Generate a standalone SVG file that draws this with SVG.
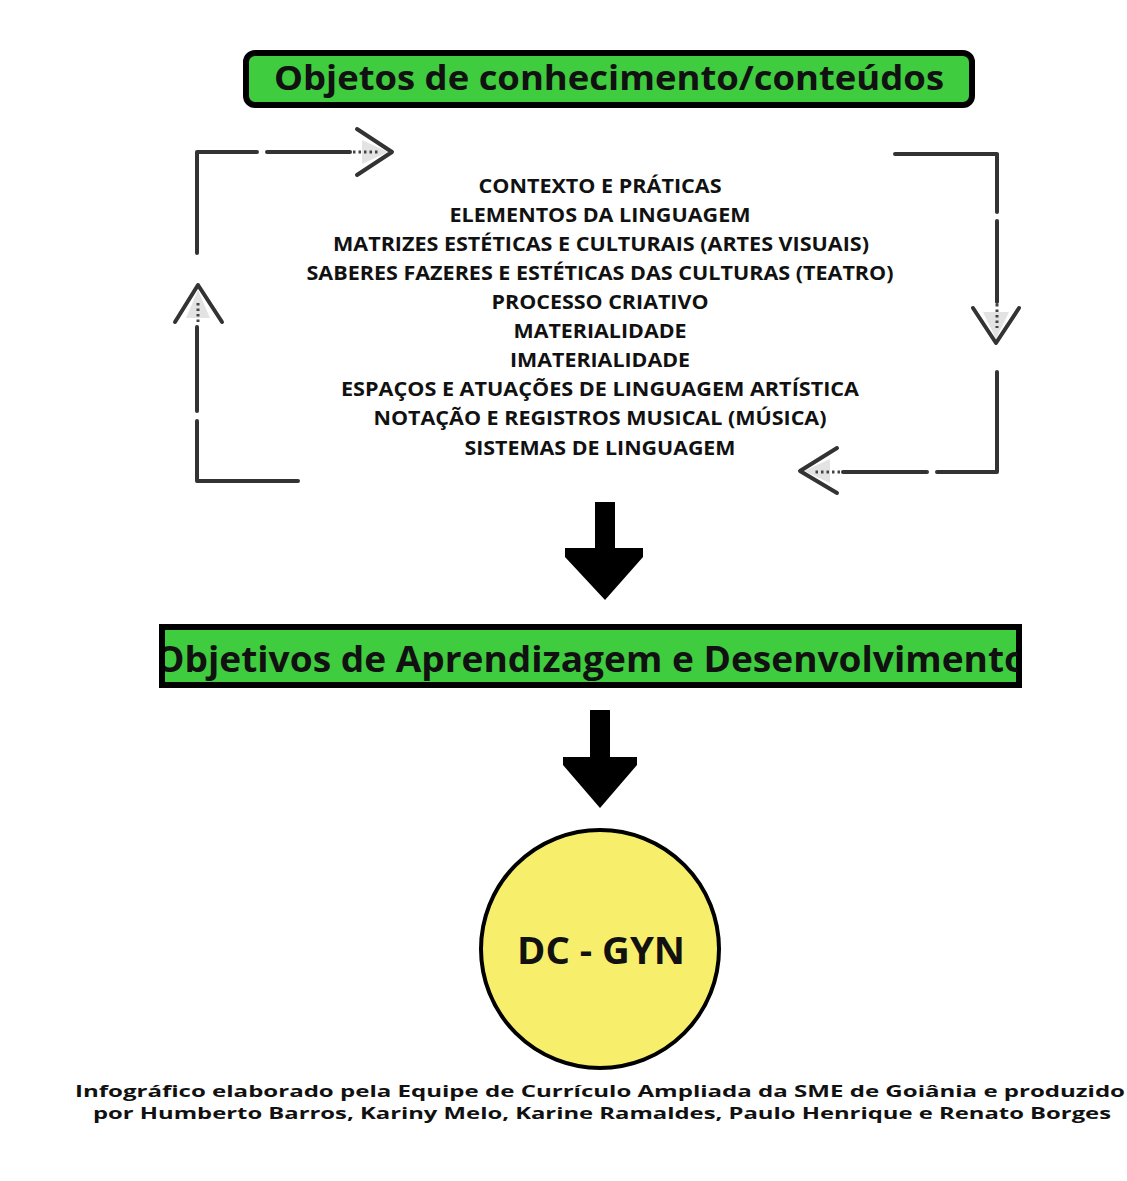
<svg xmlns="http://www.w3.org/2000/svg" width="1127" height="1181" viewBox="0 0 1127 1181">
  <defs>
    <style>
      .line{fill:none;stroke:#333;stroke-width:4;stroke-linecap:round;stroke-linejoin:round}
      .dots{fill:none;stroke:#444;stroke-width:3;stroke-dasharray:2.5 3}
      .tri{fill:#e3e3e3;stroke:none}
      .list{font-family:"Open Sans","Liberation Sans",sans-serif;font-weight:700;font-size:19px;fill:#111;text-anchor:middle}
      .head{font-family:"Open Sans","Liberation Sans",sans-serif;font-weight:700;fill:#111;text-anchor:middle}
      .foot{font-family:"Open Sans","Liberation Sans",sans-serif;font-weight:700;font-size:16px;fill:#111;text-anchor:middle}
      .big{fill:#000;stroke:none}
    </style>
    <clipPath id="clip2"><rect x="165" y="630" width="852" height="52"/></clipPath>
  </defs>
  <rect width="1127" height="1181" fill="#fff"/>

  <g id="node-objetos">
    <rect x="246" y="53" width="726" height="52" rx="9" fill="#3fcc3f" stroke="#000" stroke-width="6"/>
    <text class="head" x="609" y="90" font-size="34" textLength="670" lengthAdjust="spacingAndGlyphs">Objetos de conhecimento/conteúdos</text>
  </g>

  <g id="node-lista">
    <text class="list" x="600" y="193" textLength="243" lengthAdjust="spacingAndGlyphs">CONTEXTO E PRÁTICAS</text>
    <text class="list" x="600" y="222" textLength="301" lengthAdjust="spacingAndGlyphs">ELEMENTOS DA LINGUAGEM</text>
    <text class="list" x="601" y="251" textLength="536" lengthAdjust="spacingAndGlyphs">MATRIZES ESTÉTICAS E CULTURAIS (ARTES VISUAIS)</text>
    <text class="list" x="600" y="280" textLength="587" lengthAdjust="spacingAndGlyphs">SABERES FAZERES E ESTÉTICAS DAS CULTURAS (TEATRO)</text>
    <text class="list" x="600" y="309" textLength="217" lengthAdjust="spacingAndGlyphs">PROCESSO CRIATIVO</text>
    <text class="list" x="600" y="338" textLength="173" lengthAdjust="spacingAndGlyphs">MATERIALIDADE</text>
    <text class="list" x="600" y="367" textLength="180" lengthAdjust="spacingAndGlyphs">IMATERIALIDADE</text>
    <text class="list" x="600" y="396" textLength="518" lengthAdjust="spacingAndGlyphs">ESPAÇOS E ATUAÇÕES DE LINGUAGEM ARTÍSTICA</text>
    <text class="list" x="600" y="425" textLength="453" lengthAdjust="spacingAndGlyphs">NOTAÇÃO E REGISTROS MUSICAL (MÚSICA)</text>
    <text class="list" x="600" y="455" textLength="271" lengthAdjust="spacingAndGlyphs">SISTEMAS DE LINGUAGEM</text>
  </g>

  <g id="node-objetivos">
    <rect x="162" y="627" width="857" height="58" fill="#3fcc3f" stroke="#000" stroke-width="6"/>
    <g clip-path="url(#clip2)">
      <text class="head" x="591" y="672" font-size="36" textLength="872" lengthAdjust="spacingAndGlyphs">Objetivos de Aprendizagem e Desenvolvimento</text>
    </g>
  </g>

  <g id="node-dcgyn">
    <circle cx="600" cy="949" r="119" fill="#f7ef6b" stroke="#000" stroke-width="4"/>
    <text class="head" x="601" y="964" font-size="38" textLength="168" lengthAdjust="spacingAndGlyphs">DC - GYN</text>
  </g>

  <g id="node-credito">
    <text class="foot" x="600" y="1097" textLength="1050" lengthAdjust="spacingAndGlyphs">Infográfico elaborado pela Equipe de Currículo Ampliada da SME de Goiânia e produzido</text>
    <text class="foot" x="602" y="1119" textLength="1018" lengthAdjust="spacingAndGlyphs">por Humberto Barros, Kariny Melo, Karine Ramaldes, Paulo Henrique e Renato Borges</text>
  </g>

  <g id="connectors">
    <!-- left loop: bottom -> up -> right -->
    <polyline class="line" points="298,481 197,481 197,421"/>
    <line class="line" x1="197" y1="411" x2="197" y2="327"/>
    <polygon class="tri" points="198,290 186,318 210,318"/>
    <line class="dots" x1="198" y1="322" x2="198" y2="300"/>
    <polyline class="line" points="175,322 198,285 222,322"/>
    <polyline class="line" points="197,253 197,152 257,152"/>
    <line class="line" x1="267" y1="152" x2="350" y2="152"/>
    <polygon class="tri" points="388,152 362,140 362,164"/>
    <line class="dots" x1="353" y1="152" x2="378" y2="152"/>
    <polyline class="line" points="357,129 392,152 357,175"/>

    <!-- right loop: top -> down -> left -->
    <polyline class="line" points="895,154 997,154 997,212"/>
    <line class="line" x1="997" y1="221" x2="997" y2="302"/>
    <polygon class="tri" points="996,339 983,312 1009,312"/>
    <line class="dots" x1="997" y1="304" x2="997" y2="328"/>
    <polyline class="line" points="973,308 996,343 1019,308"/>
    <polyline class="line" points="997,372 997,472 937,472"/>
    <line class="line" x1="927" y1="472" x2="843" y2="472"/>
    <polygon class="tri" points="804,471 830,459 830,483"/>
    <line class="dots" x1="840" y1="472" x2="815" y2="472"/>
    <polyline class="line" points="837,448 800,471 837,493"/>

    <!-- big arrows -->
    <polygon class="big" points="595,502 615,502 615,548 643,548 643,557 605,600 565,557 565,548 595,548"/>
    <polygon class="big" points="590,710 610,710 610,757 637,757 637,765 600,808 563,765 563,757 590,757"/>
  </g>
</svg>
